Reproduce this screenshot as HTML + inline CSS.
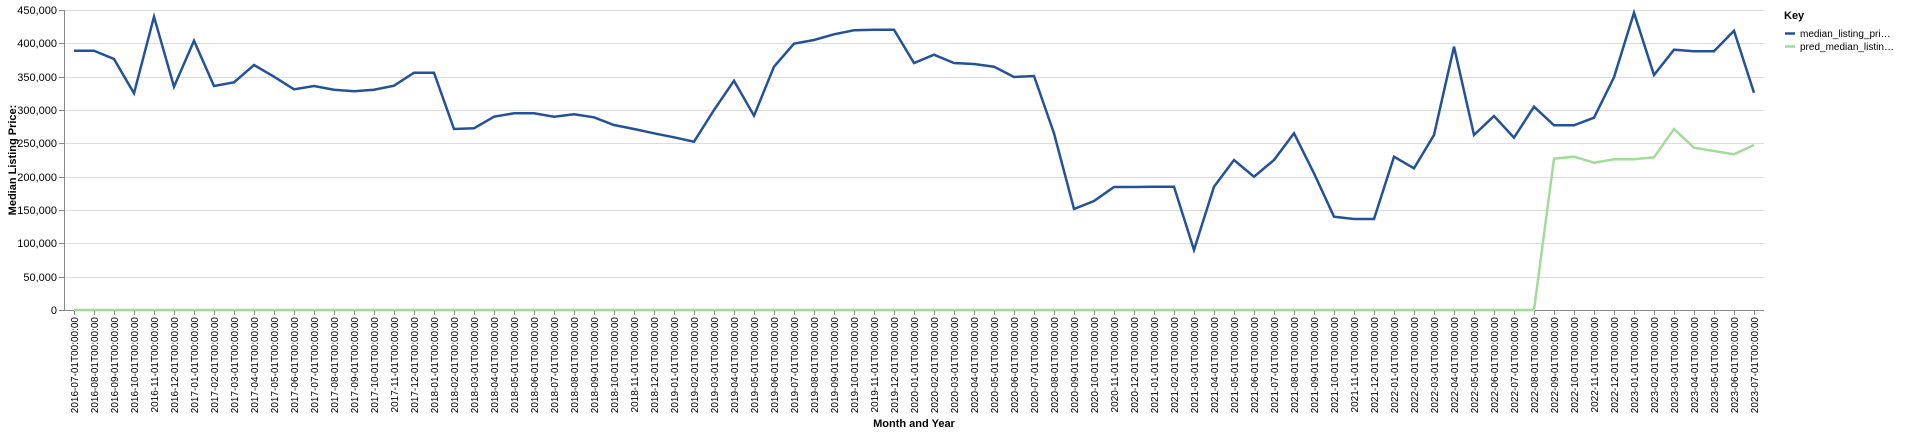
<!DOCTYPE html>
<html><head><meta charset="utf-8">
<style>
html,body{margin:0;padding:0;background:#fff;width:1920px;height:434px;overflow:hidden}
svg{display:block;font-family:"Liberation Sans",Arial,sans-serif}
</style></head>
<body>
<svg id="chart" width="1920" height="434" viewBox="0 0 1920 434"></svg>
<script>
const startYear = 2016, startMonth = 7, monthCount = 85;
const actualValues = [389000,389000,376500,325000,440000,335000,404000,336000,341500,367500,350000,331000,336000,330500,328000,330500,336500,356000,356000,271500,272500,290000,295000,295000,290000,293500,289000,277500,271500,265000,259000,252500,300000,344000,291500,365000,399500,405000,413500,419500,420500,420500,370500,383000,370500,369000,365000,349500,351000,265000,151500,163500,184500,184500,185000,185000,90000,185000,225000,200000,225000,265000,205000,140000,136500,136500,230000,212500,262500,395000,262500,291000,258500,305000,277000,277000,288500,349000,446000,352500,390500,388000,388000,419000,326000];
const predValues = [0,0,0,0,0,0,0,0,0,0,0,0,0,0,0,0,0,0,0,0,0,0,0,0,0,0,0,0,0,0,0,0,0,0,0,0,0,0,0,0,0,0,0,0,0,0,0,0,0,0,0,0,0,0,0,0,0,0,0,0,0,0,0,0,0,0,0,0,0,0,0,0,0,0,227000,230000,221000,226000,226000,229000,271500,243500,238500,233500,247500];
const yTicks = [0,50000,100000,150000,200000,250000,300000,350000,400000,450000];
const seriesNames = ["median_listing_pri…","pred_median_listin…"];

const NS = "http://www.w3.org/2000/svg";
const svg = document.getElementById('chart');
const L = 64, R = 1764, T = 10, B = 310, yMax = 450000;
const step = (R - L) / monthCount;
function xPos(i){ return L + step * (i + 0.5); }
function yPos(v){ return B - (v / yMax) * (B - T); }
function mk(tag, attrs, parent){
  const e = document.createElementNS(NS, tag);
  for (const k in attrs) e.setAttribute(k, attrs[k]);
  (parent || svg).appendChild(e);
  return e;
}
const categories = [];
for (let i = 0; i < monthCount; i++){
  const m0 = startMonth - 1 + i;
  const y = startYear + Math.floor(m0 / 12), m = m0 % 12 + 1;
  categories.push(y + "-" + String(m).padStart(2, "0") + "-01T00:00:00");
}

// gridlines + y axis
const gGrid = mk('g', {});


const gY = mk('g', {});


yTicks.forEach(v => {
  const y = Math.round(yPos(v)) + 0.5;
  mk('line', {x1: L, x2: R, y1: y, y2: y, stroke: '#ddd', 'stroke-width': 1}, gGrid);
  mk('line', {x1: L - 5, x2: L, y1: y, y2: y, stroke: '#888', 'stroke-width': 1}, gY);
  const t = mk('text', {x: L - 7, y: y + 3.5, 'text-anchor': 'end', 'font-size': 11, fill: '#000'}, gY);
  t.textContent = v.toLocaleString('en-US');
  
  
});
mk('line', {x1: L + 0.5, x2: L + 0.5, y1: T, y2: B, stroke: '#888', 'stroke-width': 1}, gY);
const yTitle = mk('text', {transform: 'translate(16,' + ((T + B) / 2) + ') rotate(-90)', 'text-anchor': 'middle', 'font-size': 11, 'font-weight': 'bold', fill: '#000'});
yTitle.textContent = 'Median Listing Price:';



// x axis
const gX = mk('g', {});


mk('line', {x1: L, x2: R, y1: B + 0.5, y2: B + 0.5, stroke: '#888', 'stroke-width': 1}, gX);
categories.forEach((c, i) => {
  const x = Math.round(xPos(i)) + 0.5;
  mk('line', {x1: x, x2: x, y1: B, y2: B + 5, stroke: '#888', 'stroke-width': 1}, gX);
  const t = mk('text', {transform: 'translate(' + (x + 3.5) + ',' + (B + 7) + ') rotate(-90)', 'text-anchor': 'end', 'font-size': 10, fill: '#000'}, gX);
  t.textContent = c;
  
  
});
const xTitle = mk('text', {x: (L + R) / 2, y: 427, 'text-anchor': 'middle', 'font-size': 11, 'font-weight': 'bold', fill: '#000'});
xTitle.textContent = 'Month and Year';



// series
function drawLine(vals, color, name){
  const d = vals.map((v, i) => (i ? 'L' : 'M') + xPos(i).toFixed(1) + ',' + yPos(v).toFixed(1)).join('');
  const p = mk('path', {d: d, fill: 'none', stroke: color, 'stroke-width': 2.5, 'stroke-linejoin': 'miter'});
  
  
}
drawLine(predValues, '#a1dc98', 'pred-median-listing-price-line');
drawLine(actualValues, '#23529a', 'median-listing-price-line');

// legend
const gL = mk('g', {});


const kt = mk('text', {x: 1784, y: 19, 'font-size': 11, 'font-weight': 'bold', fill: '#000'}, gL);
kt.textContent = 'Key';


const legendColors = ['#23529a', '#a1dc98'];
seriesNames.forEach((n, i) => {
  const y = 33.5 + i * 13;
  const g = mk('g', {}, gL);
  
  
  mk('line', {x1: 1785, x2: 1795, y1: y, y2: y, stroke: legendColors[i], 'stroke-width': 2.5}, g);
  const t = mk('text', {x: 1800, y: y + 3.5, 'font-size': 10, fill: '#000'}, g);
  t.textContent = n;
});
</script>
</body></html>
